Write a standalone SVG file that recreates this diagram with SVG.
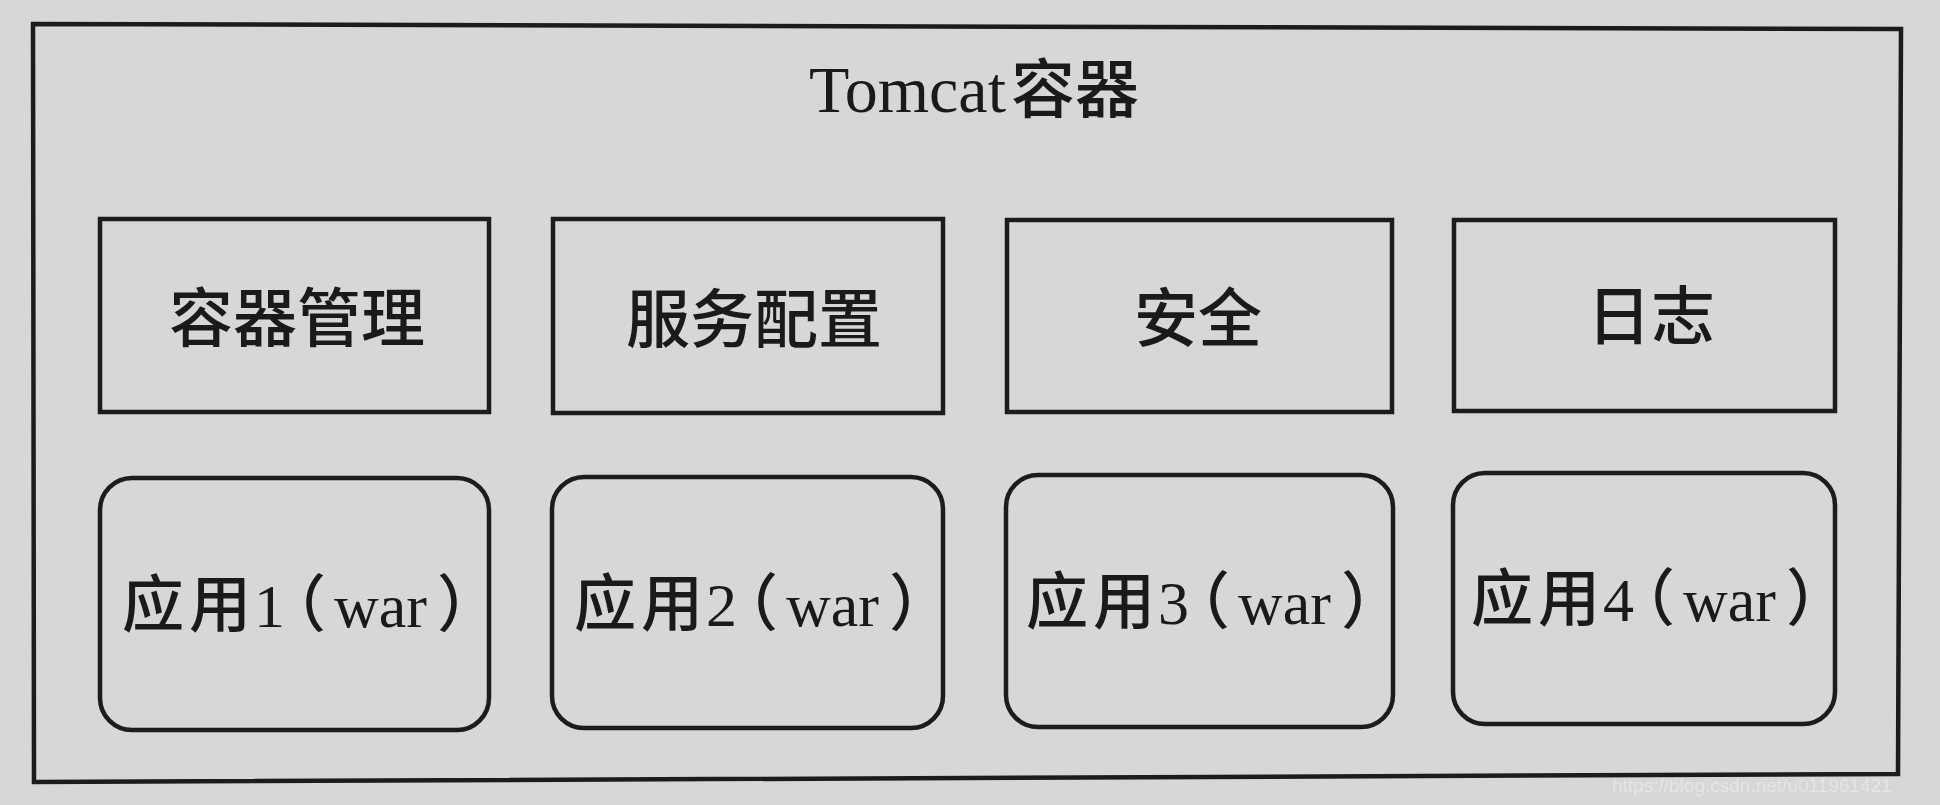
<svg xmlns="http://www.w3.org/2000/svg" width="1940" height="805" viewBox="0 0 1940 805">
<style>
.box{fill:none;stroke:#1c1c1c;stroke-width:4.5}
.cjk{font-family:"Liberation Serif","Noto Sans CJK SC",serif;font-weight:500;fill:#1a1a1a}
.lat{font-family:"Liberation Serif","Noto Sans CJK SC",serif;fill:#1a1a1a}
.h{font-size:64px}
.app{font-family:"Liberation Serif","Noto Sans CJK SC",serif;font-size:62px;fill:#1a1a1a;font-feature-settings:"halt";text-anchor:middle}
.app .c{font-weight:500}
.wm{font-family:"Liberation Sans",sans-serif;font-size:19px;fill:#e9e9e7;opacity:0.8}
</style>
<rect x="0" y="0" width="1940" height="805" fill="#d7d7d5"/>
<g id="container">
<polygon class="box" points="33,24 1901,29 1898,774 34,782"/>
<text y="112"><tspan class="lat" x="809" font-size="66">Tomcat</tspan><tspan class="cjk h" x="1011">容器</tspan></text>
</g>
<g id="node-container-mgmt">
<rect class="box" x="100" y="219" width="389" height="193"/>
<text class="cjk h" x="297" y="341" text-anchor="middle">容器管理</text>
</g>
<g id="node-service-config">
<rect class="box" x="553" y="219" width="390" height="194"/>
<text class="cjk h" x="754" y="342" text-anchor="middle">服务配置</text>
</g>
<g id="node-security">
<rect class="box" x="1007" y="220" width="385" height="192"/>
<text class="cjk h" x="1198" y="341" text-anchor="middle">安全</text>
</g>
<g id="node-log">
<rect class="box" x="1454" y="220" width="381" height="191"/>
<text class="cjk h" x="1651" y="339" text-anchor="middle">日志</text>
</g>
<g id="node-app1">
<rect class="box" x="100" y="478" width="389" height="252" rx="32" ry="32"/>
<text class="app" x="295" y="627"><tspan class="c">应</tspan><tspan class="c" dx="5">用</tspan><tspan dx="3">1</tspan><tspan class="c" dx="10">（</tspan><tspan dx="8">war</tspan><tspan class="c" dx="10">）</tspan></text>
</g>
<g id="node-app2">
<rect class="box" x="552" y="477" width="391" height="251" rx="32" ry="32"/>
<text class="app" x="747" y="626"><tspan class="c">应</tspan><tspan class="c" dx="5">用</tspan><tspan dx="3">2</tspan><tspan class="c" dx="10">（</tspan><tspan dx="8">war</tspan><tspan class="c" dx="10">）</tspan></text>
</g>
<g id="node-app3">
<rect class="box" x="1006" y="475" width="387" height="252" rx="32" ry="32"/>
<text class="app" x="1199" y="624"><tspan class="c">应</tspan><tspan class="c" dx="5">用</tspan><tspan dx="3">3</tspan><tspan class="c" dx="10">（</tspan><tspan dx="8">war</tspan><tspan class="c" dx="10">）</tspan></text>
</g>
<g id="node-app4">
<rect class="box" x="1453" y="473" width="382" height="251" rx="32" ry="32"/>
<text class="app" x="1644" y="621"><tspan class="c">应</tspan><tspan class="c" dx="5">用</tspan><tspan dx="3">4</tspan><tspan class="c" dx="10">（</tspan><tspan dx="8">war</tspan><tspan class="c" dx="10">）</tspan></text>
</g>
<g id="connectors"></g>
<text class="wm" x="1612" y="792">https://blog.csdn.net/u011961421</text>
</svg>
